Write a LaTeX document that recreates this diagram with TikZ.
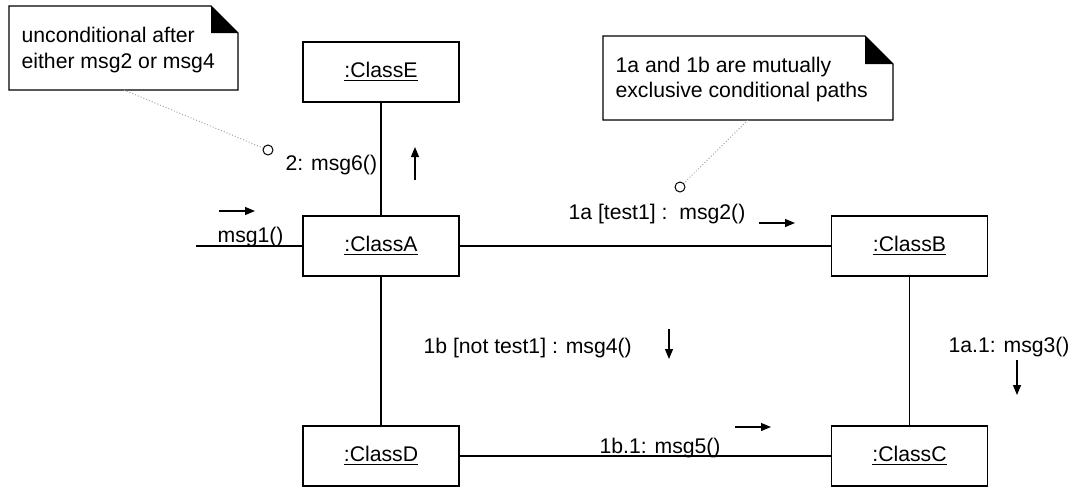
\documentclass[tikz,border=0pt]{standalone}
\usepackage{fontspec}
\setmainfont{Liberation Sans}
\usetikzlibrary{arrows.meta}

\tikzset{
    classbox/.style={draw, fill=white, minimum width=78pt, minimum height=30pt, inner sep=0pt},
    msgarrow/.style={-{Triangle[length=5pt,width=4pt]}},
    notelink/.style={densely dotted, gray!70, line width=0.5pt},
    notetag/.style={draw, circle, fill=white, inner sep=0pt, minimum size=5pt, line width=0.5pt},
    msglabel/.style={anchor=base west, inner sep=0pt},
}

\begin{document}
\begin{tikzpicture}[x=0.5pt, y=-0.5pt, font=\fontsize{10.6}{13}\selectfont, line width=0.6pt]
        \useasboundingbox (0,0) rectangle (1078,488);

        % objects
        \node[classbox] (classE) at (381,72)    {\underline{:ClassE}};
        \node[classbox] (classA) at (381,246)   {\underline{:ClassA}};
        \node[classbox] (classB) at (909.5,246) {\underline{:ClassB}};
        \node[classbox] (classD) at (381,456)   {\underline{:ClassD}};
        \node[classbox] (classC) at (909.5,456) {\underline{:ClassC}};

        % links
        \coordinate (caller) at (196,246);
        \draw (caller) -- (classA);
        \draw (classE) -- (classA);
        \draw (classA) -- (classB);
        \draw (classA) -- (classD);
        \draw (classB) -- (classC);
        \draw (classD) -- (classC);

        % messages
        \node[msglabel] (lblOne)   at (217,242) {msg1()};
        \node[msglabel] (lblSix)   at (285,170) {2: msg6()};
        \node[msglabel] (lblTwo)   at (568,219) {1a [test1] :\ \ msg2()};
        \node[msglabel] (lblFour)  at (423,353) {1b [not test1] : msg4()};
        \node[msglabel] (lblFive)  at (599,453) {1b.1: msg5()};
        \node[msglabel] (lblThree) at (948,352) {1a.1: msg3()};

        \foreach \xa/\ya/\xb/\yb in {
            219/211/255/211,
            415/180/415/147,
            759/223/795/223,
            669/329/669/359,
            735/427/771/427,
            1017/360/1017/395
        } {
            \draw[msgarrow] (\xa,\ya) -- (\xb,\yb);
        }

        % notes
        \draw[fill=white] (9,6) -- (211,6) -- (238,33) -- (238,90) -- (9,90) -- cycle;
        \fill (211,6) -- (238,33) -- (211,33) -- cycle;
        \node[msglabel] (noteLineA) at (21,42) {unconditional after};
        \node[msglabel] (noteLineB) at (21,68) {either msg2 or msg4};

        \draw[fill=white] (603,36) -- (865,36) -- (893,64) -- (893,120) -- (603,120) -- cycle;
        \fill (865,36) -- (893,64) -- (865,64) -- cycle;
        \node[msglabel] (noteLineC) at (615,72) {1a and 1b are mutually};
        \node[msglabel] (noteLineD) at (615,97) {exclusive conditional paths};

        \coordinate (noteFootA) at (124,90);
        \coordinate (noteFootB) at (748,120);
        \node[notetag] (tagSix) at (268,150) {};
        \node[notetag] (tagTwo) at (680,187) {};
        \draw[notelink] (noteFootA) -- (tagSix);
        \draw[notelink] (noteFootB) -- (tagTwo);
    \end{tikzpicture}
\end{document}
